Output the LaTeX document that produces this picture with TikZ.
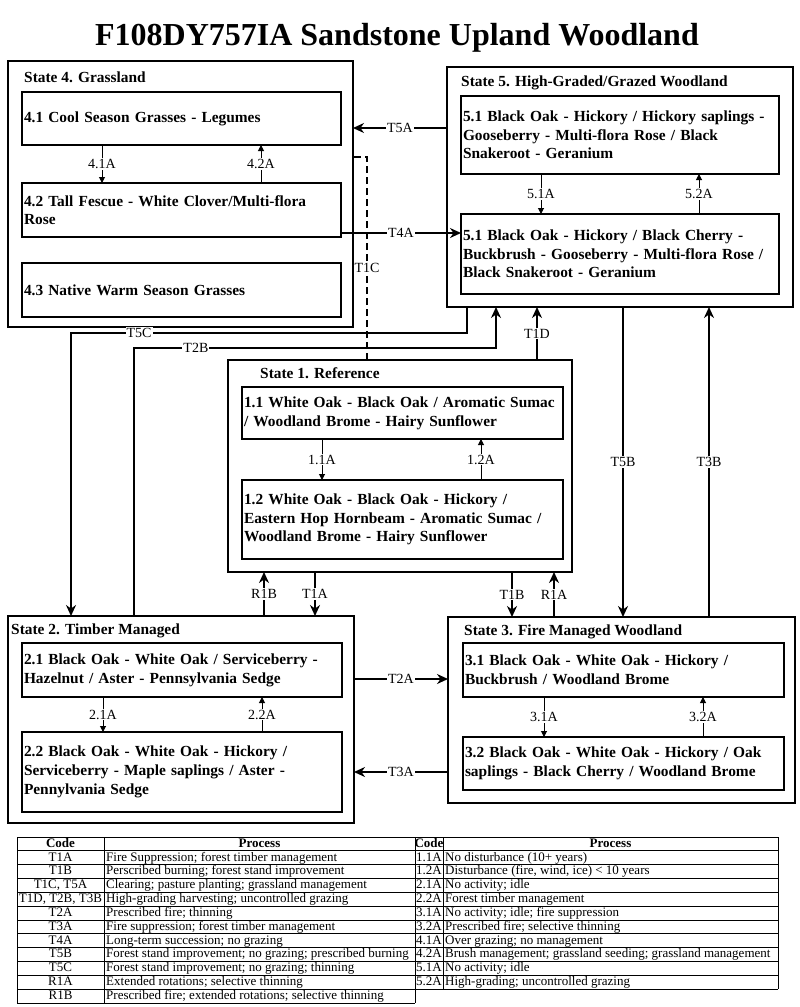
\documentclass[tikz,border=0pt]{standalone}
\usepackage{fontspec}
\setmainfont{Liberation Serif}
\usetikzlibrary{arrows.meta}
\begin{document}
\begin{tikzpicture}[x=1pt,y=-1pt,
  statebox/.style={draw, line width=2.6pt, anchor=north west, inner sep=0pt, outer sep=0pt},
  subbox/.style={draw, line width=1.1pt, anchor=north west, inner sep=2pt, outer sep=0pt, align=left, font=\fontsize{15.4}{18.7}\selectfont\bfseries},
  stitle/.style={anchor=base west, inner sep=0pt, font=\fontsize{15.4}{18.7}\selectfont\bfseries},
  trans/.style={line width=2.2pt, -{Stealth[length=11pt,width=10pt]}},
  tlabel/.style={fill=white, inner sep=1pt, font=\fontsize{14}{16}\selectfont},
  innerarrow/.style={line width=1pt, -{Triangle[length=6pt,width=6pt]}},
  dashline/.style={line width=2pt, dash pattern=on 7pt off 4pt},
  cell/.style={inner sep=0pt, font=\fontsize{13}{14}\selectfont, text height=9pt, text depth=2.5pt},
  hcell/.style={cell, font=\fontsize{13}{14}\selectfont\bfseries},
  tline/.style={line width=1pt}
]
\useasboundingbox (0,0) rectangle (800,1007);

% title
\node[anchor=base, inner sep=0pt, font=\fontsize{32}{36}\selectfont\bfseries] (title) at (397,45) {F108DY757IA Sandstone Upland Woodland};

% states
\node[statebox, minimum width=345pt, minimum height=266pt] (s4) at (8,61) {};
\node[statebox, minimum width=346pt, minimum height=240pt] (s5) at (447,67) {};
\node[statebox, minimum width=344pt, minimum height=212pt] (s1) at (228,360) {};
\node[statebox, minimum width=346pt, minimum height=207pt] (s2) at (8,616) {};
\node[statebox, minimum width=347pt, minimum height=186pt] (s3) at (448,617) {};

% state titles
\node[stitle] (t4) at (24,82.5) {State 4. Grassland};
\node[stitle] (t5) at (461,86.5) {State 5. High-Graded/Grazed Woodland};
\node[stitle] (t1) at (260,378) {State 1. Reference};
\node[stitle] (t2) at (11,634) {State 2. Timber Managed};
\node[stitle] (t3) at (464,635) {State 3. Fire Managed Woodland};

% community boxes
\node[subbox, minimum width=319pt, text width=315pt, minimum height=53pt] (b41) at (22,92) {4.1 Cool Season Grasses - Legumes};
\node[subbox, minimum width=319pt, text width=315pt, minimum height=54pt] (b42) at (22,183) {4.2 Tall Fescue - White Clover/Multi-flora\\Rose};
\node[subbox, minimum width=319pt, text width=315pt, minimum height=54pt] (b43) at (22,263) {4.3 Native Warm Season Grasses};

\node[subbox, minimum width=318pt, text width=314pt, minimum height=78pt] (b51) at (461,96) {5.1 Black Oak - Hickory / Hickory saplings -\\Gooseberry - Multi-flora Rose / Black\\Snakeroot - Geranium};
\node[subbox, minimum width=318pt, text width=314pt, minimum height=80pt] (b52) at (461,214) {5.1 Black Oak - Hickory / Black Cherry -\\Buckbrush - Gooseberry - Multi-flora Rose /\\Black Snakeroot - Geranium};

\node[subbox, minimum width=321pt, text width=317pt, minimum height=52pt] (b11) at (242,387) {\mbox{1.1 White Oak - Black Oak / Aromatic Sumac}\\/ Woodland Brome - Hairy Sunflower};
\node[subbox, minimum width=321pt, text width=317pt, minimum height=79pt] (b12) at (242,480) {1.2 White Oak - Black Oak - Hickory /\\Eastern Hop Hornbeam - Aromatic Sumac /\\Woodland Brome - Hairy Sunflower};

\node[subbox, minimum width=320pt, text width=316pt, minimum height=54pt] (b21) at (22,643) {2.1 Black Oak - White Oak / Serviceberry -\\Hazelnut / Aster - Pennsylvania Sedge};
\node[subbox, minimum width=320pt, text width=316pt, minimum height=80pt] (b22) at (22,732) {2.2 Black Oak - White Oak - Hickory /\\Serviceberry - Maple saplings / Aster -\\Pennylvania Sedge};

\node[subbox, minimum width=321pt, text width=317pt, minimum height=54pt] (b31) at (463,643) {3.1 Black Oak - White Oak - Hickory /\\Buckbrush / Woodland Brome};
\node[subbox, minimum width=321pt, text width=317pt, minimum height=53pt] (b32) at (463,737) {\mbox{3.2 Black Oak - White Oak - Hickory / Oak}\\saplings - Black Cherry / Woodland Brome};

% community pathways
\draw[innerarrow] (b41.south -| 102,0) -- (b42.north -| 102,0) node[midway, tlabel] {4.1A};
\draw[innerarrow] (b42.north -| 261,0) -- (b41.south -| 261,0) node[midway, tlabel] {4.2A};
\draw[innerarrow] (b51.south -| 541,0) -- (b52.north -| 541,0) node[midway, tlabel] {5.1A};
\draw[innerarrow] (b52.north -| 699,0) -- (b51.south -| 699,0) node[midway, tlabel] {5.2A};
\draw[innerarrow] (b11.south -| 322,0) -- (b12.north -| 322,0) node[midway, tlabel] {1.1A};
\draw[innerarrow] (b12.north -| 481,0) -- (b11.south -| 481,0) node[midway, tlabel] {1.2A};
\draw[innerarrow] (b21.south -| 103,0) -- (b22.north -| 103,0) node[midway, tlabel] {2.1A};
\draw[innerarrow] (b22.north -| 262,0) -- (b21.south -| 262,0) node[midway, tlabel] {2.2A};
\draw[innerarrow] (b31.south -| 544,0) -- (b32.north -| 544,0) node[midway, tlabel] {3.1A};
\draw[innerarrow] (b32.north -| 703,0) -- (b31.south -| 703,0) node[midway, tlabel] {3.2A};

% transitions
\draw[trans] (s5.west |- 0,128) -- (s4.east |- 0,128) node[midway, tlabel] {T5A};
\draw[trans] (b42.east |- 0,233) -- (b52.west |- 0,233) node[midway, tlabel] {T4A};
\draw[dashline] (s1.north -| 367,0) -- node[pos=0.453, tlabel] {T1C} (367,157) -- (s4.east |- 0,157);
\draw[trans] (s1.north -| 537,0) -- (s5.south -| 537,0) node[midway, tlabel] {T1D};
\draw[trans] (s5.south -| 467,0) -- (467,333) -- node[pos=0.828, tlabel] {T5C} (71,333) -- (s2.north -| 71,0);
\draw[trans] (s2.north -| 134,0) -- (134,348) -- node[pos=0.171, tlabel] {T2B} (496,348) -- (s5.south -| 496,0);
\draw[trans] (s5.south -| 623,0) -- (s3.north -| 623,0) node[midway, tlabel] {T5B};
\draw[trans] (s3.north -| 709,0) -- (s5.south -| 709,0) node[midway, tlabel] {T3B};
\draw[trans] (s2.north -| 264,0) -- (s1.south -| 264,0) node[midway, tlabel] {R1B};
\draw[trans] (s1.south -| 315,0) -- (s2.north -| 315,0) node[midway, tlabel] {T1A};
\draw[trans] (s1.south -| 512,0) -- (s3.north -| 512,0) node[midway, tlabel] {T1B};
\draw[trans] (s3.north -| 554,0) -- (s1.south -| 554,0) node[midway, tlabel] {R1A};
\draw[trans] (s2.east |- 0,679) -- (s3.west |- 0,679) node[midway, tlabel] {T2A};
\draw[trans] (s3.west |- 0,772) -- (s2.east |- 0,772) node[midway, tlabel] {T3A};

% tables: grid
\foreach \i in {0,...,12} \draw[tline] (17,837+13.85*\i) -- (415,837+13.85*\i);
\foreach \i in {0,...,11} \draw[tline] (415,837+13.85*\i) -- (778,837+13.85*\i);
\draw[tline] (17,837) -- (17,1003.2);
\draw[tline] (104,837) -- (104,1003.2);
\draw[tline] (415,837) -- (415,1003.2);
\draw[tline] (443,837) -- (443,989.35);
\draw[tline] (778,837) -- (778,989.35);

% headers
\node[hcell] (lh1) at (60.5,843.9) {Code};
\node[hcell] (lh2) at (259.5,843.9) {Process};
\node[hcell] (rh1) at (429,843.9) {Code};
\node[hcell] (rh2) at (610.5,843.9) {Process};

\foreach \c/\p [count=\i] in {
  {T1A}/{Fire Suppression; forest timber management},
  {T1B}/{Perscribed burning; forest stand improvement},
  {T1C, T5A}/{Clearing; pasture planting; grassland management},
  {T1D, T2B, T3B}/{High-grading harvesting; uncontrolled grazing},
  {T2A}/{Prescribed fire; thinning},
  {T3A}/{Fire suppression; forest timber management},
  {T4A}/{Long-term succession; no grazing},
  {T5B}/{Forest stand improvement; no grazing; prescribed burning},
  {T5C}/{Forest stand improvement; no grazing; thinning},
  {R1A}/{Extended rotations; selective thinning},
  {R1B}/{Prescribed fire; extended rotations; selective thinning}} {
  \node[cell] (lc\i) at (60.5,843.9+13.85*\i) {\c};
  \node[cell, anchor=west] (lp\i) at (106,843.9+13.85*\i) {\p};
}

\foreach \c/\p [count=\i] in {
  {1.1A}/{No disturbance (10+ years)},
  {1.2A}/{Disturbance (fire, wind, ice) < 10 years},
  {2.1A}/{No activity; idle},
  {2.2A}/{Forest timber management},
  {3.1A}/{No activity; idle; fire suppression},
  {3.2A}/{Prescribed fire; selective thinning},
  {4.1A}/{Over grazing; no management},
  {4.2A}/{Brush management; grassland seeding; grassland management},
  {5.1A}/{No activity; idle},
  {5.2A}/{High-grading; uncontrolled grazing}} {
  \node[cell] (rc\i) at (429,843.9+13.85*\i) {\c};
  \node[cell, anchor=west] (rp\i) at (445,843.9+13.85*\i) {\p};
}
\end{tikzpicture}
\end{document}
